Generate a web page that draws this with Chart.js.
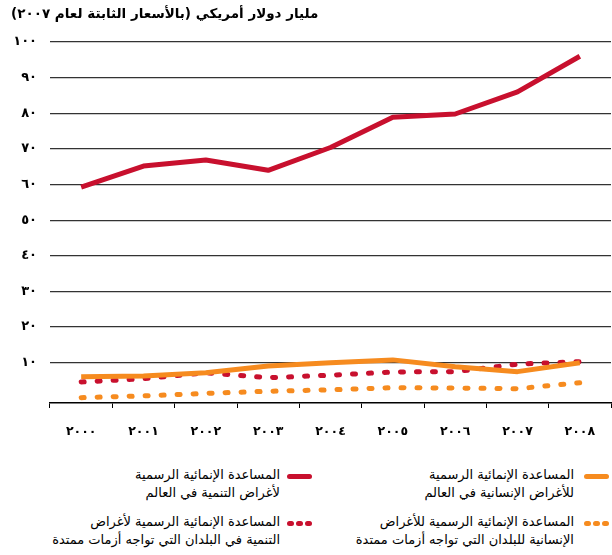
<!DOCTYPE html>
<html>
<head>
<meta charset="utf-8">
<script src="https://cdn.jsdelivr.net/npm/chart.js@4.4.0/dist/chart.umd.min.js"></script>
<style>
  body { margin: 0; background: #fff; }
  #page { position: relative; width: 612px; height: 555px; overflow: hidden; font-family: "DejaVu Sans", sans-serif; color: #000; }
  #title { position: absolute; left: 11px; top: 5px; font-weight: bold; font-size: 13.5px; direction: rtl; white-space: nowrap; }
  #myChart { position: absolute; left: 0; top: 0; }
  .legText { position: absolute; direction: rtl; text-align: right; white-space: pre; font-size: 13px; line-height: 18px; }
  .sw { position: absolute; width: 25px; height: 5px; }
  .sw span { position: absolute; top: 0; height: 5px; border-radius: 3px; }
</style>
</head>
<body>
<div id="page">
  <canvas id="myChart" width="612" height="465"></canvas>
  <div id="title">مليار دولار أمريكي (بالأسعار الثابتة لعام ٢٠٠٧)</div>
  <div id="legend"></div>
</div>
<script>
var years = ['٢٠٠٠', '٢٠٠١', '٢٠٠٢', '٢٠٠٣', '٢٠٠٤', '٢٠٠٥', '٢٠٠٦', '٢٠٠٧', '٢٠٠٨'];
var yTickLabels = ['٠', '١٠', '٢٠', '٣٠', '٤٠', '٥٠', '٦٠', '٧٠', '٨٠', '٩٠', '١٠٠'];

// مليار دولار
var devWorld = [59.3, 65.2, 66.9, 64.0, 70.4, 78.9, 79.8, 86.0, 96.0];
var humWorld = [6.1, 6.3, 7.2, 9.1, 10.0, 10.8, 8.9, 7.5, 10.0];
var devCrisis = [4.6, 5.5, 7.2, 5.8, 6.5, 7.4, 7.5, 9.6, 10.3];
var humCrisis = [0.2, 0.7, 1.4, 2.0, 2.4, 3.0, 2.9, 2.7, 4.4];

var seriesNames = [
    'المساعدة الإنمائية الرسمية\nلأغراض التنمية في العالم',
    'المساعدة الإنمائية الرسمية\nللأغراض الإنسانية في العالم',
    'المساعدة الإنمائية الرسمية لأغراض\nالتنمية في البلدان التي تواجه أزمات ممتدة',
    'المساعدة الإنمائية الرسمية للأغراض\nالإنسانية للبلدان التي تواجه أزمات ممتدة'
];

var red = '#C8102E';
var orange = '#F68B1F';

var cdata = {
    labels: years,
    datasets: [{
        label: seriesNames[0],
        data: devWorld,
        borderColor: red,
        borderWidth: 5
    }, {
        label: seriesNames[1],
        data: humWorld,
        borderColor: orange,
        borderWidth: 5
    }, {
        label: seriesNames[2],
        data: devCrisis,
        borderColor: red,
        borderWidth: 5,
        borderDash: [3, 13],
        borderCapStyle: 'round'
    }, {
        label: seriesNames[3],
        data: humCrisis,
        borderColor: orange,
        borderWidth: 5,
        borderDash: [3, 13],
        borderCapStyle: 'round'
    }]
};

var config = {
    type: 'line',
    data: cdata,
    options: {
        responsive: false,
        animation: false,
        layout: { padding: { top: 42, left: 11, right: 1, bottom: 10 } },
        elements: {
            point: { radius: 0 },
            line: { tension: 0, borderJoinStyle: 'round', fill: false }
        },
        plugins: {
            legend: { display: false },
            tooltip: { enabled: false }
        },
        scales: {
            x: {
                offset: true,
                grid: { drawOnChartArea: false, drawTicks: true, tickLength: 5, color: '#000', offset: true },
                border: { display: true, color: '#000', width: 1.5 },
                ticks: {
                    color: '#000',
                    padding: 16,
                    maxRotation: 0,
                    font: { family: 'DejaVu Sans', size: 12.5, weight: 'bold' }
                }
            },
            y: {
                min: -1.3,
                max: 100,
                afterBuildTicks: function (axis) {
                    axis.ticks = axis.ticks.filter(function (t) { return t.value >= 0; });
                },
                afterFit: function (axis) { axis.width = 39; },
                grid: {
                    drawTicks: false,
                    lineWidth: 1.2,
                    color: function (ctx) { return ctx.tick && ctx.tick.value === 0 ? 'rgba(0,0,0,0)' : '#333'; }
                },
                border: { display: false },
                ticks: {
                    stepSize: 10,
                    padding: 13,
                    color: '#000',
                    font: { family: 'DejaVu Sans', size: 13, weight: 'bold' },
                    callback: function (value) { return yTickLabels[Math.round(value / 10)]; }
                }
            }
        }
    }
};

var myChart = new Chart(document.getElementById('myChart'), config);

// legend
var legPos = [
    { textRight: 280, swLeft: 287, top: 466 },
    { textRight: 574, swLeft: 584, top: 466 },
    { textRight: 280, swLeft: 287, top: 513 },
    { textRight: 574, swLeft: 584, top: 513 }
];
var legend = document.getElementById('legend');
myChart.data.datasets.forEach(function (ds, i) {
    var p = legPos[i];
    var t = document.createElement('div');
    t.className = 'legText';
    t.style.right = (612 - p.textRight) + 'px';
    t.style.top = p.top + 'px';
    t.textContent = ds.label;
    legend.appendChild(t);

    var sw = document.createElement('div');
    sw.className = 'sw';
    sw.style.left = p.swLeft + 'px';
    sw.style.top = (p.top + 8) + 'px';
    if (ds.borderDash) {
        for (var k = 0; k < 3; k++) {
            var d = document.createElement('span');
            d.style.left = (k * 9) + 'px';
            d.style.width = '7px';
            d.style.background = ds.borderColor;
            sw.appendChild(d);
        }
    } else {
        var d2 = document.createElement('span');
        d2.style.left = '0px';
        d2.style.width = '25px';
        d2.style.background = ds.borderColor;
        sw.appendChild(d2);
    }
    legend.appendChild(sw);
});
</script>
</body>
</html>
